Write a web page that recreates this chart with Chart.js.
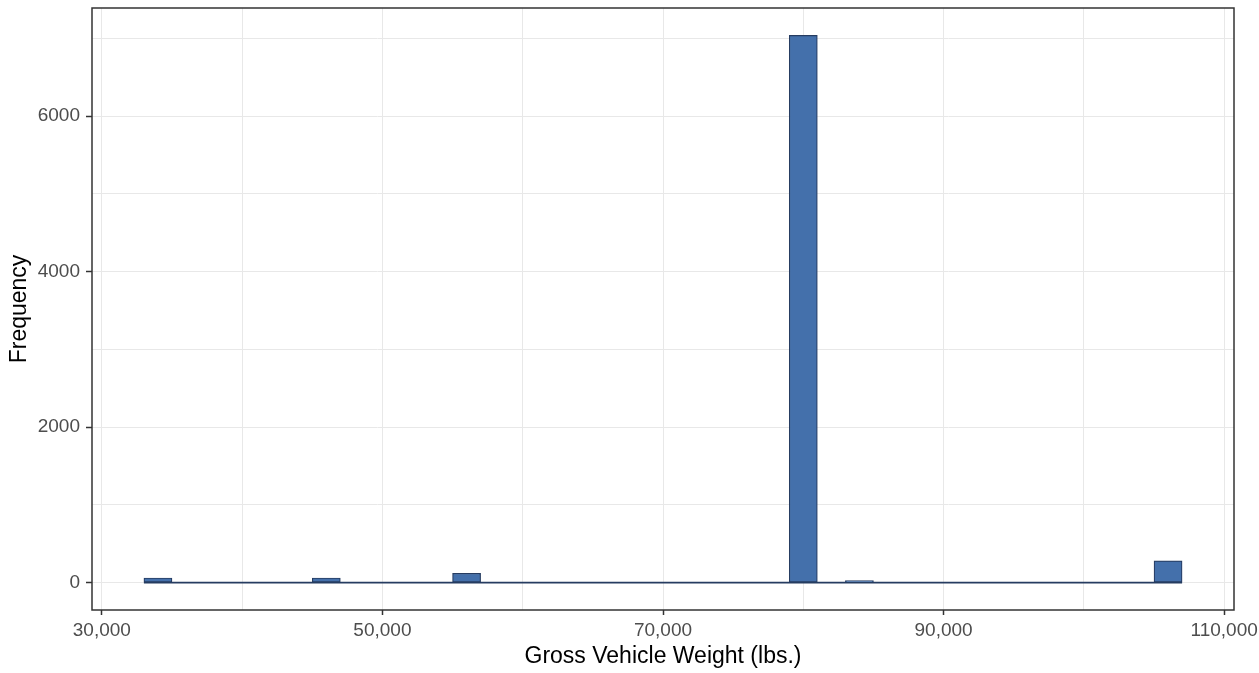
<!DOCTYPE html>
<html>
<head>
<meta charset="utf-8">
<script src="https://cdn.jsdelivr.net/npm/chart.js@4.4.1/dist/chart.umd.min.js"></script>
<style>
  html, body { margin: 0; padding: 0; background: #fff; }
  #wrap { width: 1259px; height: 673px; }
</style>
</head>
<body>
<div id="wrap"><canvas id="gvwChart" width="1259" height="673"></canvas></div>
<script>
// histogram bins (centre of each 2,000 lb bin) and counts
const binCenters = [
    34000, 36000, 38000, 40000, 42000, 44000, 46000, 48000, 50000, 52000,
    54000, 56000, 58000, 60000, 62000, 64000, 66000, 68000, 70000, 72000,
    74000, 76000, 78000, 80000, 82000, 84000, 86000, 88000, 90000, 92000,
    94000, 96000, 98000, 100000, 102000, 104000, 106000,
];
const counts = [
    60, 0, 0, 0, 0, 0, 60, 0, 0, 0,
    0, 120, 0, 0, 0, 0, 0, 0, 0, 0,
    0, 0, 0, 7040, 0, 25, 0, 0, 0, 0,
    0, 0, 0, 0, 0, 0, 280,
];
// grid lines (major + minor) and the labelled ones
const xGridTicks = [30000, 40000, 50000, 60000, 70000, 80000, 90000, 100000, 110000];
const yGridTicks = [0, 1000, 2000, 3000, 4000, 5000, 6000, 7000];
const xLabelTicks = [30000, 50000, 70000, 90000, 110000];
const yLabelTicks = [0, 2000, 4000, 6000];

const FILL = '#4470ab';
const EDGE = '#263c61';
const GRID = '#e8e8e8';
const AXIS = '#333333';
const TICKTXT = '#4d4d4d';
const FONT = "'Liberation Sans', Arial, sans-serif";

document.addEventListener('DOMContentLoaded', () => {
    const ctx = document.getElementById('gvwChart');

    const half = (binCenters[1] - binCenters[0]) / 2;
    const lo = binCenters[0] - half;
    const hi = binCenters[binCenters.length - 1] + half;
    const xPad = (hi - lo) * 0.05;
    const yMax = Math.max(...counts);

    const barData = binCenters.map((x, i) => ({ x, y: counts[i] }));

    // ggplot-like panel border drawn on top of everything
    const panelBorder = {
        id: 'panelBorder',
        afterDraw(chart) {
            const { ctx: c, chartArea: a } = chart;
            c.save();
            c.strokeStyle = AXIS;
            c.lineWidth = 1.5;
            c.strokeRect(a.left, a.top, a.right - a.left, a.bottom - a.top);
            c.restore();
        },
    };

    new Chart(ctx, {
        type: 'bar',
        data: {
            datasets: [
                {
                    type: 'line',
                    data: [{ x: lo, y: 0 }, { x: hi, y: 0 }],
                    borderColor: EDGE,
                    borderWidth: 1.6,
                    pointRadius: 0,
                    order: 2,
                },
                {
                    label: 'Frequency',
                    data: barData,
                    backgroundColor: FILL,
                    borderColor: EDGE,
                    borderWidth: 1.2,
                    borderSkipped: false,
                    barPercentage: 1,
                    categoryPercentage: 1,
                    order: 1,
                },
            ],
        },
        options: {
            responsive: false,
            animation: false,
            layout: { padding: { top: 8, right: 25, bottom: 0, left: 0 } },
            plugins: {
                legend: { display: false },
                tooltip: { enabled: false },
            },
            scales: {
                x: {
                    type: 'linear',
                    min: lo - xPad,
                    max: hi + xPad,
                    offset: false,
                    border: { display: false },
                    afterBuildTicks: (s) => {
                        s.ticks = xGridTicks.map((v) => ({ value: v }));
                    },
                    grid: {
                        offset: false,
                        color: GRID,
                        lineWidth: 1,
                        tickLength: 5,
                        tickWidth: 1.5,
                        tickColor: (c) => xLabelTicks.includes(c.tick.value) ? AXIS : 'rgba(0,0,0,0)',
                    },
                    ticks: {
                        autoSkip: false,
                        maxRotation: 0,
                        padding: 4,
                        color: TICKTXT,
                        font: { family: FONT, size: 19 },
                        callback: (v) => xLabelTicks.includes(v) ? v.toLocaleString('en-US') : '',
                    },
                    title: {
                        display: true,
                        text: 'Gross Vehicle Weight (lbs.)',
                        color: '#000',
                        font: { family: FONT, size: 23 },
                        padding: { top: 0, bottom: 3 },
                    },
                    afterFit: (s) => {
                        s.height = 63;
                        s.paddingLeft = 0;
                        s.paddingRight = 0;
                    },
                },
                y: {
                    min: -yMax * 0.05,
                    max: yMax * 1.05,
                    border: { display: false },
                    afterBuildTicks: (s) => {
                        s.ticks = yGridTicks.map((v) => ({ value: v }));
                    },
                    grid: {
                        color: GRID,
                        lineWidth: 1,
                        tickLength: 6,
                        tickWidth: 1.5,
                        tickColor: (c) => yLabelTicks.includes(c.tick.value) ? AXIS : 'rgba(0,0,0,0)',
                    },
                    ticks: {
                        autoSkip: false,
                        padding: 6,
                        color: TICKTXT,
                        font: { family: FONT, size: 19 },
                        callback: (v) => yLabelTicks.includes(v) ? String(v) : '',
                    },
                    title: {
                        display: true,
                        text: 'Frequency',
                        color: '#000',
                        font: { family: FONT, size: 23 },
                        padding: { top: 6, bottom: 0 },
                    },
                    afterFit: (s) => {
                        s.width = 92;
                        s.paddingTop = 0;
                        s.paddingBottom = 0;
                    },
                },
            },
        },
        plugins: [panelBorder],
    });
});
</script>
</body>
</html>
